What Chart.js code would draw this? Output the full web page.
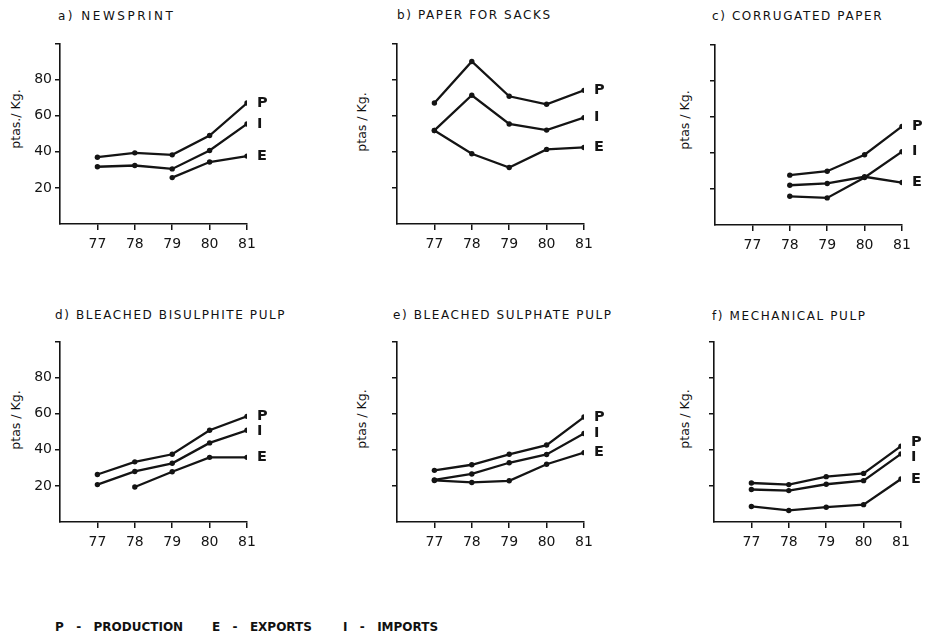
<!DOCTYPE html>
<html>
<head>
<meta charset="utf-8">
<script src="https://cdn.jsdelivr.net/npm/chart.js@4"></script>
<style>
  html, body { margin: 0; padding: 0; background: #fff; }
  body { width: 926px; height: 637px; overflow: hidden; position: relative; font-family: "DejaVu Sans", sans-serif; color: #111; }
  canvas { position: absolute; }
  .ttl { position: absolute; font-size: 12px; line-height: 14px; letter-spacing: 1.6px; white-space: nowrap; }
  .ylab { position: absolute; font-size: 12.5px; line-height: 14px; white-space: nowrap; transform: translate(-50%, -50%) rotate(-90deg); }
  .leg { position: absolute; top: 620px; font-size: 12px; line-height: 14px; font-weight: bold; white-space: pre; word-spacing: 2px; }
</style>
</head>
<body>
<div class="ttl" style="left:58px;top:9px;letter-spacing:2.5px">a) NEWSPRINT</div>
<div class="ttl" style="left:397px;top:8px">b) PAPER FOR SACKS</div>
<div class="ttl" style="left:712px;top:9px">c) CORRUGATED PAPER</div>
<div class="ttl" style="left:55px;top:308px">d) BLEACHED BISULPHITE PULP</div>
<div class="ttl" style="left:393px;top:308px">e) BLEACHED SULPHATE PULP</div>
<div class="ttl" style="left:712px;top:309px">f) MECHANICAL PULP</div>

<div class="ylab" style="left:16px;top:119px">ptas./ Kg.</div>
<div class="ylab" style="left:362px;top:122px">ptas / Kg.</div>
<div class="ylab" style="left:685px;top:120px">ptas / Kg.</div>
<div class="ylab" style="left:16px;top:420px">ptas / Kg.</div>
<div class="ylab" style="left:362px;top:419px">ptas / Kg.</div>
<div class="ylab" style="left:685px;top:419px">ptas / Kg.</div>

<div class="leg" style="left:55px">P  -  PRODUCTION</div>
<div class="leg" style="left:212px">E  -  EXPORTS</div>
<div class="leg" style="left:343px">I  -  IMPORTS</div>

<canvas id="ca" width="272" height="227"></canvas>
<canvas id="cb" width="272" height="227"></canvas>
<canvas id="cc" width="272" height="227"></canvas>
<canvas id="cd" width="272" height="227"></canvas>
<canvas id="ce" width="272" height="227"></canvas>
<canvas id="cf" width="272" height="227"></canvas>

<script>
// years on the x axis
var years = [77, 78, 79, 80, 81];
var yTicks = [20, 40, 60, 80, 100];
var yTickLabels = ['20', '40', '60', '80', ''];

// a) newsprint
var newsP = [37, 39.4, 38.3, 49, 67];
var newsI = [31.7, 32.4, 30.5, 40.7, 55.4];
var newsE = [null, null, 25.7, 34.3, 37.6];
// b) paper for sacks
var sacksP = [67, 90, 70.7, 66.3, 74];
var sacksI = [51.8, 71.3, 55.4, 52, 58.9];
var sacksE = [51.8, 38.9, 31.3, 41.3, 42.4];
// c) corrugated paper
var corrP = [null, 27.6, 29.8, 38.9, 54.6];
var corrI = [null, 15.9, 15, 26.3, 40.6];
var corrE = [null, 22, 23, 26.7, 23.5];
// d) bleached bisulphite pulp
var bisP = [26.3, 33.3, 37.5, 50.8, 58.5];
var bisI = [20.7, 28, 32.5, 43.8, 50.8];
var bisE = [null, 19.4, 27.8, 35.8, 35.8];
// e) bleached sulphate pulp
var sulP = [28.6, 31.7, 37.5, 42.6, 58.1];
var sulI = [23.3, 26.6, 32.8, 37.4, 49];
var sulE = [23, 21.9, 22.8, 32, 38.4];
// f) mechanical pulp
var mechP = [21.6, 20.7, 25.1, 26.9, 42];
var mechI = [18, 17.4, 20.9, 22.9, 37.7];
var mechE = [8.6, 6.4, 8.2, 9.6, 23.8];

var ink = '#141414';
Chart.defaults.font.family = '"DejaVu Sans", sans-serif';
Chart.defaults.color = ink;

function pts(vals) {
    return years.map(function (yr, i) { return { x: yr, y: vals[i] }; })
        .filter(function (p) { return p.y !== null; });
}

function serie(tag, vals) {
    return {
        label: tag,
        data: pts(vals),
        borderColor: ink,
        backgroundColor: ink,
        borderWidth: 2.3,
        pointRadius: 2.7,
        pointBorderWidth: 0,
        pointBackgroundColor: ink,
        tension: 0
    };
}

// letters P / I / E next to the last point of each line
var endTags = {
    id: 'endTags',
    afterDatasetsDraw: function (chart) {
        var ctx = chart.ctx;
        var items = chart.data.datasets.map(function (ds, i) {
            var el = chart.getDatasetMeta(i).data;
            var last = el[el.length - 1];
            return { t: ds.label, x: last.x, y: last.y };
        });
        items.sort(function (a, b) { return a.y - b.y; });
        // push close labels apart
        var gap = 15;
        for (var k = 0; k < 4; k++) {
            for (var j = 1; j < items.length; j++) {
                var d = items[j].y - items[j - 1].y;
                if (d < gap) {
                    items[j - 1].y -= (gap - d) / 2;
                    items[j].y += (gap - d) / 2;
                }
            }
        }
        ctx.save();
        ctx.font = 'bold 14.5px "DejaVu Sans", sans-serif';
        ctx.fillStyle = ink;
        ctx.textAlign = 'left';
        ctx.textBaseline = 'middle';
        items.forEach(function (it) { ctx.fillText(it.t, it.x + 10, it.y); });
        ctx.restore();
    }
};

function panel(id, left, top, showNums, p, i, e) {
    var cv = document.getElementById(id);
    cv.style.left = (left - 45) + 'px';
    cv.style.top = (top - 10) + 'px';
    new Chart(cv, {
        type: 'line',
        data: { datasets: [serie('P', p), serie('I', i), serie('E', e)] },
        options: {
            responsive: false,
            animation: false,
            layout: { padding: { top: 10, right: 40, bottom: 0, left: 0 } },
            plugins: { legend: { display: false }, tooltip: { enabled: false } },
            scales: {
                x: {
                    type: 'linear',
                    min: 76,
                    max: 81,
                    afterBuildTicks: function (ax) { ax.ticks = years.map(function (v) { return { value: v }; }); },
                    afterFit: function (ax) { ax.height = 35; },
                    grid: { drawOnChartArea: false, drawTicks: true, tickLength: 6, color: ink, lineWidth: 1.5 },
                    border: { display: true, color: ink, width: 1.6 },
                    ticks: { padding: 6, font: { size: 14 }, color: ink, maxRotation: 0 }
                },
                y: {
                    min: 0,
                    max: 100,
                    afterBuildTicks: function (ax) { ax.ticks = yTicks.map(function (v) { return { value: v }; }); },
                    afterFit: function (ax) { ax.width = 45; },
                    grid: { drawOnChartArea: false, drawTicks: true, tickLength: 5, color: ink, lineWidth: 1.5 },
                    border: { display: true, color: ink, width: 1.6 },
                    ticks: {
                        padding: 3,
                        font: { size: 14 },
                        color: ink,
                        callback: function (v) {
                            if (!showNums) return '';
                            var k = yTicks.indexOf(v);
                            return k < 0 ? '' : yTickLabels[k];
                        }
                    }
                }
            }
        },
        plugins: [endTags]
    });
}

panel('ca', 60, 42, true, newsP, newsI, newsE);
panel('cb', 397, 42, false, sacksP, sacksI, sacksE);
panel('cc', 715, 43, false, corrP, corrI, corrE);
panel('cd', 60, 340, true, bisP, bisI, bisE);
panel('ce', 397, 340, false, sulP, sulI, sulE);
panel('cf', 714, 340, false, mechP, mechI, mechE);
</script>
</body>
</html>
